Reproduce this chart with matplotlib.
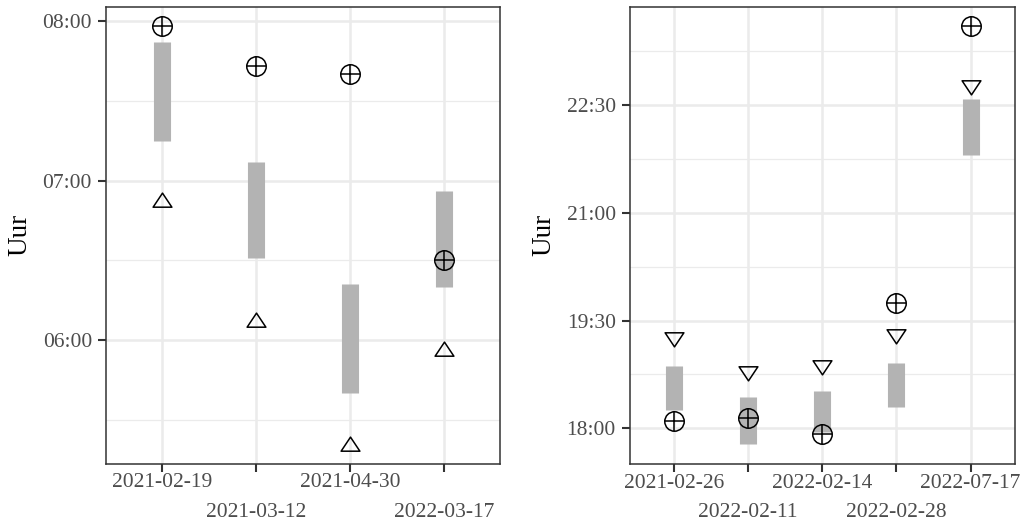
import matplotlib.pyplot as plt
from matplotlib.path import Path

plt.rcParams['font.family'] = ['Liberation Serif', 'DejaVu Serif']

# left panel (morning)
dates_am = ['2021-02-19', '2021-03-12', '2021-04-30', '2022-03-17']
bar_lo_am = ['07:15', '06:31', '05:40', '06:20']
bar_hi_am = ['07:52', '07:07', '06:21', '06:56']
circle_am = ['07:58', '07:43', '07:40', '06:30']
tri_am = ['06:52', '06:07', '05:20', '05:56']
major_am = ['06:00', '07:00', '08:00']
minor_am = ['05:30', '06:30', '07:30']

# right panel (evening)
dates_pm = ['2021-02-26', '2022-02-11', '2022-02-14', '2022-02-28', '2022-07-17']
bar_lo_pm = ['18:15', '17:47', '17:57', '18:18', '21:48']
bar_hi_pm = ['18:52', '18:26', '18:31', '18:55', '22:35']
circle_pm = ['18:06', '18:09', '17:55', '19:45', '23:36']
tri_pm = ['19:16', '18:48', '18:53', '19:19', '22:47']
major_pm = ['18:00', '19:30', '21:00', '22:30']
minor_pm = ['18:45', '20:15', '21:45', '23:15']


def to_min(times):
    return [int(t[:2]) * 60 + int(t[3:]) for t in times]


def hhmm(v, pos=None):
    v = int(round(v))
    return '%02d:%02d' % (v // 60, v % 60)


# triangles centred on their centroid, like R's pch 2 / 6
tri_up = Path([(-1, -0.5), (1, -0.5), (0, 1), (-1, -0.5)], closed=True)
tri_down = Path([(-1, 0.5), (1, 0.5), (0, -1), (-1, 0.5)], closed=True)

W, H = 1028, 524
fig = plt.figure(figsize=(W / 100, H / 100), dpi=100)
ax1 = fig.add_axes([105.7 / W, (H - 463.5) / H, 394.6 / W, 456.8 / H])
ax2 = fig.add_axes([629.5 / W, (H - 464) / H, 385.5 / W, 457.3 / H])


def panel(ax, dates, lo, hi, circ, tri, tri_marker, ylim, major, minor):
    x = list(range(len(dates)))
    ax.vlines(x, to_min(lo), to_min(hi), colors='#B3B3B3', linewidth=12.3,
              capstyle='butt', zorder=2)
    ax.plot(x, to_min(circ), linestyle='none', marker='o', ms=14, mfc='none',
            mec='black', mew=1.1, zorder=3)
    ax.plot(x, to_min(circ), linestyle='none', marker='+', ms=14,
            mec='black', mew=1.1, zorder=3)
    ax.plot(x, to_min(tri), linestyle='none', marker=tri_marker, ms=13.5,
            mfc='none', mec='black', mew=1.1, zorder=3)

    ax.set_xlim(-0.6, len(dates) - 0.4)
    ax.set_ylim(*ylim)
    ax.set_yticks(to_min(major))
    ax.set_yticks(to_min(minor), minor=True)
    ax.yaxis.set_major_formatter(hhmm)
    ax.set_xticks(x)
    ax.set_xticklabels(dates)

    ax.set_axisbelow(True)
    ax.grid(which='major', color='#EBEBEB', linewidth=1.8)
    ax.grid(which='minor', axis='y', color='#EBEBEB', linewidth=0.9)
    for s in ax.spines.values():
        s.set_color('#333333')
        s.set_linewidth(1.1)
    ax.tick_params(which='major', length=5.5, width=1.5, color='#333333',
                   labelcolor='#4D4D4D', labelsize=15.5, pad=4.4)
    ax.tick_params(which='minor', length=0)
    ax.tick_params(axis='x', pad=1.5)
    # staggered date labels
    for i, t in enumerate(ax.xaxis.get_major_ticks()):
        if i % 2:
            t.set_pad(22.8)
    ax.set_ylabel('Uur', fontsize=19.5, labelpad=7)


panel(ax1, dates_am, bar_lo_am, bar_hi_am, circle_am, tri_am, tri_up,
      (313.6, 485.4), major_am, minor_am)
panel(ax2, dates_pm, bar_lo_pm, bar_hi_pm, circle_pm, tri_pm, tri_down,
      (1050.2, 1432.3), major_pm, minor_pm)

fig.savefig('out.png', dpi=100)
